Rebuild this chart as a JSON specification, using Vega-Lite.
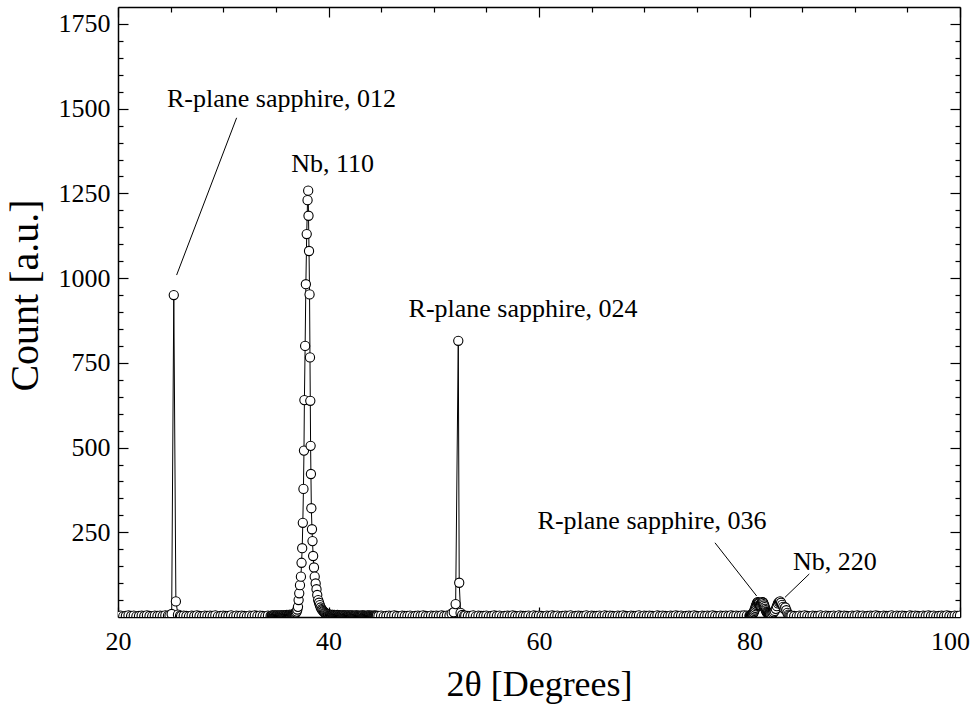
{
  "$schema": "https://vega.github.io/schema/vega-lite/v6.json",
  "width": 842,
  "height": 610,
  "autosize": {"type": "none"},
  "padding": {"left": 118, "top": 7, "right": 14, "bottom": 89},
  "background": "white",
  "config": {
    "view": {"stroke": null},
    "axis": {
      "labelFont": "Liberation Serif", "labelFontSize": 26, "labelColor": "black",
      "titleFont": "Liberation Serif", "titleFontWeight": "normal", "titleColor": "black",
      "domainColor": "black", "domainWidth": 1.5, "tickColor": "black", "tickWidth": 1.2,
      "grid": false, "labelOverlap": false, "labelFlush": false
    }
  },
  "datasets": {
    "scan": [
      {"angle":20.0,"count":3},{"angle":20.25,"count":4},{"angle":20.5,"count":2},{"angle":20.75,"count":3},{"angle":21.0,"count":5},{"angle":21.25,"count":3},{"angle":21.5,"count":4},{"angle":21.75,"count":2},{"angle":22.0,"count":3},{"angle":22.25,"count":4},{"angle":22.5,"count":3},{"angle":22.75,"count":5},{"angle":23.0,"count":3},{"angle":23.25,"count":2},{"angle":23.5,"count":4},{"angle":23.75,"count":3},{"angle":24.0,"count":4},{"angle":24.25,"count":3},{"angle":24.5,"count":5},{"angle":24.75,"count":4},
      {"angle":24.9,"count":5},{"angle":25.1,"count":9},{"angle":25.3,"count":950},{"angle":25.5,"count":46},{"angle":25.7,"count":7},{"angle":25.9,"count":4},
      {"angle":26.0,"count":3},{"angle":26.25,"count":4},{"angle":26.5,"count":3},{"angle":26.75,"count":2},{"angle":27.0,"count":4},{"angle":27.25,"count":3},{"angle":27.5,"count":5},{"angle":27.75,"count":3},{"angle":28.0,"count":2},{"angle":28.25,"count":4},{"angle":28.5,"count":3},{"angle":28.75,"count":4},{"angle":29.0,"count":3},{"angle":29.25,"count":5},{"angle":29.5,"count":2},{"angle":29.75,"count":3},{"angle":30.0,"count":4},{"angle":30.25,"count":3},{"angle":30.5,"count":3},{"angle":30.75,"count":5},{"angle":31.0,"count":2},{"angle":31.25,"count":4},{"angle":31.5,"count":3},{"angle":31.75,"count":4},{"angle":32.0,"count":3},{"angle":32.25,"count":2},{"angle":32.5,"count":4},{"angle":32.75,"count":3},{"angle":33.0,"count":5},{"angle":33.25,"count":3},{"angle":33.5,"count":4},{"angle":33.75,"count":3},{"angle":34.0,"count":2},{"angle":34.25,"count":4},{"angle":34.5,"count":3},
      {"angle":34.6,"count":3},{"angle":34.65,"count":5},{"angle":34.7,"count":4},{"angle":34.75,"count":2},{"angle":34.8,"count":3},{"angle":34.85,"count":5},{"angle":34.9,"count":2},{"angle":34.95,"count":4},{"angle":35.0,"count":4},{"angle":35.05,"count":3},{"angle":35.1,"count":3},{"angle":35.15,"count":5},{"angle":35.2,"count":4},{"angle":35.25,"count":2},{"angle":35.3,"count":3},{"angle":35.35,"count":4},{"angle":35.4,"count":5},{"angle":35.45,"count":3},{"angle":35.5,"count":3},{"angle":35.55,"count":5},{"angle":35.6,"count":4},{"angle":35.65,"count":3},{"angle":35.7,"count":4},{"angle":35.75,"count":5},{"angle":35.8,"count":3},{"angle":35.85,"count":4},{"angle":35.9,"count":5},{"angle":35.95,"count":4},{"angle":36.0,"count":4},{"angle":36.05,"count":6},{"angle":36.1,"count":5},{"angle":36.15,"count":4},{"angle":36.2,"count":4},{"angle":36.25,"count":6},{"angle":36.3,"count":6},{"angle":36.35,"count":5},{"angle":36.4,"count":5},{"angle":36.45,"count":7},{"angle":36.5,"count":6},{"angle":36.55,"count":6},
      {"angle":36.6,"count":6},{"angle":36.65,"count":7},{"angle":36.7,"count":8},{"angle":36.75,"count":9},{"angle":36.8,"count":10},{"angle":36.85,"count":11},{"angle":36.9,"count":13},{"angle":36.98,"count":16},{"angle":37.04,"count":22},{"angle":37.1,"count":30},{"angle":37.16,"count":50},{"angle":37.22,"count":70},{"angle":37.29,"count":94},{"angle":37.38,"count":119},{"angle":37.44,"count":160},{"angle":37.5,"count":203},{"angle":37.56,"count":278},{"angle":37.62,"count":378},{"angle":37.67,"count":491},{"angle":37.71,"count":640},{"angle":37.78,"count":800},{"angle":37.85,"count":982},{"angle":37.93,"count":1130},{"angle":38.01,"count":1230},{"angle":38.07,"count":1258},
      {"angle":38.1,"count":1184},{"angle":38.15,"count":1080},{"angle":38.2,"count":952},{"angle":38.24,"count":766},{"angle":38.27,"count":638},{"angle":38.3,"count":505},{"angle":38.33,"count":422},{"angle":38.37,"count":321},{"angle":38.43,"count":259},{"angle":38.48,"count":224},{"angle":38.54,"count":180},{"angle":38.62,"count":146},{"angle":38.69,"count":119},{"angle":38.78,"count":99},{"angle":38.86,"count":82},{"angle":38.93,"count":65},{"angle":39.02,"count":50},{"angle":39.1,"count":42},{"angle":39.18,"count":35},{"angle":39.26,"count":28},{"angle":39.35,"count":23},{"angle":39.42,"count":20},{"angle":39.5,"count":17},{"angle":39.58,"count":15},{"angle":39.65,"count":13},{"angle":39.72,"count":11},{"angle":39.8,"count":10},{"angle":39.88,"count":9},{"angle":39.95,"count":8},{"angle":40.02,"count":7},{"angle":40.1,"count":6},{"angle":40.15,"count":7},
      {"angle":40.2,"count":6},{"angle":40.25,"count":5},{"angle":40.3,"count":5},{"angle":40.35,"count":6},{"angle":40.4,"count":6},{"angle":40.45,"count":4},{"angle":40.5,"count":5},{"angle":40.55,"count":6},{"angle":40.6,"count":4},{"angle":40.65,"count":5},{"angle":40.7,"count":5},{"angle":40.75,"count":4},{"angle":40.8,"count":4},{"angle":40.85,"count":6},{"angle":40.9,"count":5},{"angle":40.95,"count":3},{"angle":41.0,"count":4},{"angle":41.05,"count":5},{"angle":41.1,"count":4},{"angle":41.15,"count":3},{"angle":41.2,"count":3},{"angle":41.25,"count":4},{"angle":41.3,"count":5},{"angle":41.35,"count":3},{"angle":41.4,"count":4},{"angle":41.45,"count":5},{"angle":41.5,"count":3},{"angle":41.55,"count":4},{"angle":41.6,"count":4},{"angle":41.65,"count":2},{"angle":41.7,"count":4},{"angle":41.75,"count":5},{"angle":41.8,"count":3},{"angle":41.85,"count":3},{"angle":41.9,"count":4},{"angle":41.95,"count":5},{"angle":42.0,"count":3},{"angle":42.05,"count":2},{"angle":42.1,"count":4},{"angle":42.15,"count":4},{"angle":42.2,"count":3},{"angle":42.25,"count":5},{"angle":42.3,"count":3},{"angle":42.35,"count":2},{"angle":42.4,"count":4},{"angle":42.45,"count":3},{"angle":42.5,"count":2},{"angle":42.55,"count":4},{"angle":42.6,"count":3},{"angle":42.65,"count":5},{"angle":42.7,"count":4},{"angle":42.75,"count":2},{"angle":42.8,"count":3},{"angle":42.85,"count":4},{"angle":42.9,"count":3},{"angle":42.95,"count":2},{"angle":43.0,"count":4},{"angle":43.05,"count":3},{"angle":43.1,"count":2},{"angle":43.15,"count":4},{"angle":43.2,"count":3},{"angle":43.25,"count":5},{"angle":43.3,"count":4},{"angle":43.35,"count":2},{"angle":43.4,"count":3},{"angle":43.45,"count":4},{"angle":43.5,"count":3},{"angle":43.55,"count":2},{"angle":43.6,"count":2},{"angle":43.65,"count":4},{"angle":43.7,"count":4},{"angle":43.75,"count":3},{"angle":43.8,"count":3},{"angle":43.85,"count":5},{"angle":43.9,"count":3},{"angle":43.95,"count":2},{"angle":44.0,"count":4},{"angle":44.05,"count":3},{"angle":44.1,"count":2},{"angle":44.15,"count":4},{"angle":44.2,"count":3},{"angle":44.25,"count":2},{"angle":44.3,"count":3},{"angle":44.35,"count":4},{"angle":44.4,"count":4},{"angle":44.45,"count":3},{"angle":44.5,"count":2},{"angle":44.55,"count":4},{"angle":44.6,"count":3},
      {"angle":44.75,"count":3},{"angle":45.0,"count":4},{"angle":45.25,"count":2},{"angle":45.5,"count":3},{"angle":45.75,"count":4},{"angle":46.0,"count":3},{"angle":46.25,"count":5},{"angle":46.5,"count":3},{"angle":46.75,"count":2},{"angle":47.0,"count":4},{"angle":47.25,"count":3},{"angle":47.5,"count":3},{"angle":47.75,"count":4},{"angle":48.0,"count":2},{"angle":48.25,"count":3},{"angle":48.5,"count":4},{"angle":48.75,"count":3},{"angle":49.0,"count":5},{"angle":49.25,"count":3},{"angle":49.5,"count":2},{"angle":49.75,"count":4},{"angle":50.0,"count":3},{"angle":50.25,"count":4},{"angle":50.5,"count":3},{"angle":50.75,"count":5},{"angle":51.0,"count":3},{"angle":51.25,"count":4},{"angle":51.5,"count":5},
      {"angle":51.7,"count":10},{"angle":51.9,"count":14},{"angle":52.08,"count":38},{"angle":52.33,"count":815},{"angle":52.42,"count":101},{"angle":52.55,"count":12},{"angle":52.7,"count":6},{"angle":52.9,"count":4},
      {"angle":53.0,"count":4},{"angle":53.25,"count":3},{"angle":53.5,"count":3},{"angle":53.75,"count":5},{"angle":54.0,"count":2},{"angle":54.25,"count":4},{"angle":54.5,"count":3},{"angle":54.75,"count":3},{"angle":55.0,"count":4},{"angle":55.25,"count":2},{"angle":55.5,"count":3},{"angle":55.75,"count":5},{"angle":56.0,"count":3},{"angle":56.25,"count":4},{"angle":56.5,"count":2},{"angle":56.75,"count":3},{"angle":57.0,"count":4},{"angle":57.25,"count":3},{"angle":57.5,"count":5},{"angle":57.75,"count":3},{"angle":58.0,"count":2},{"angle":58.25,"count":4},{"angle":58.5,"count":3},{"angle":58.75,"count":3},{"angle":59.0,"count":4},{"angle":59.25,"count":2},{"angle":59.5,"count":5},{"angle":59.75,"count":3},{"angle":60.0,"count":4},{"angle":60.25,"count":3},{"angle":60.5,"count":2},{"angle":60.75,"count":4},{"angle":61.0,"count":3},{"angle":61.25,"count":5},{"angle":61.5,"count":3},{"angle":61.75,"count":4},{"angle":62.0,"count":2},{"angle":62.25,"count":3},{"angle":62.5,"count":4},{"angle":62.75,"count":3},{"angle":63.0,"count":5},{"angle":63.25,"count":2},{"angle":63.5,"count":3},{"angle":63.75,"count":4},{"angle":64.0,"count":3},{"angle":64.25,"count":3},{"angle":64.5,"count":5},{"angle":64.75,"count":2},{"angle":65.0,"count":4},{"angle":65.25,"count":3},{"angle":65.5,"count":3},{"angle":65.75,"count":4},{"angle":66.0,"count":2},{"angle":66.25,"count":5},{"angle":66.5,"count":3},{"angle":66.75,"count":4},{"angle":67.0,"count":3},{"angle":67.25,"count":2},{"angle":67.5,"count":4},{"angle":67.75,"count":3},{"angle":68.0,"count":5},{"angle":68.25,"count":3},{"angle":68.5,"count":2},{"angle":68.75,"count":4},{"angle":69.0,"count":3},{"angle":69.25,"count":3},{"angle":69.5,"count":5},{"angle":69.75,"count":2},{"angle":70.0,"count":4},{"angle":70.25,"count":3},{"angle":70.5,"count":4},{"angle":70.75,"count":3},{"angle":71.0,"count":2},{"angle":71.25,"count":5},{"angle":71.5,"count":3},{"angle":71.75,"count":4},{"angle":72.0,"count":3},{"angle":72.25,"count":2},{"angle":72.5,"count":4},{"angle":72.75,"count":3},{"angle":73.0,"count":5},{"angle":73.25,"count":3},{"angle":73.5,"count":4},{"angle":73.75,"count":2},{"angle":74.0,"count":3},{"angle":74.25,"count":4},{"angle":74.5,"count":3},{"angle":74.75,"count":5},{"angle":75.0,"count":3},{"angle":75.25,"count":2},{"angle":75.5,"count":4},{"angle":75.75,"count":3},{"angle":76.0,"count":4},{"angle":76.25,"count":3},{"angle":76.5,"count":5},{"angle":76.75,"count":3},{"angle":77.0,"count":2},{"angle":77.25,"count":4},{"angle":77.5,"count":3},{"angle":77.75,"count":4},{"angle":78.0,"count":3},{"angle":78.25,"count":5},{"angle":78.5,"count":3},{"angle":78.75,"count":4},{"angle":79.0,"count":3},{"angle":79.25,"count":4},{"angle":79.5,"count":5},{"angle":79.75,"count":4},
      {"angle":80.0,"count":4},{"angle":80.05,"count":5},{"angle":80.1,"count":5},{"angle":80.15,"count":6},{"angle":80.2,"count":6},{"angle":80.25,"count":7},{"angle":80.3,"count":9},{"angle":80.35,"count":11},{"angle":80.4,"count":14},{"angle":80.45,"count":18},{"angle":80.5,"count":22},{"angle":80.55,"count":27},{"angle":80.6,"count":32},{"angle":80.65,"count":36},{"angle":80.7,"count":40},{"angle":80.75,"count":43},{"angle":80.8,"count":44},{"angle":80.85,"count":42},{"angle":80.9,"count":40},{"angle":80.95,"count":36},{"angle":81.0,"count":34},{"angle":81.05,"count":35},{"angle":81.1,"count":38},{"angle":81.15,"count":42},{"angle":81.2,"count":44},{"angle":81.25,"count":44},{"angle":81.3,"count":42},{"angle":81.35,"count":38},{"angle":81.4,"count":34},{"angle":81.45,"count":29},{"angle":81.5,"count":24},{"angle":81.55,"count":20},{"angle":81.6,"count":16},{"angle":81.65,"count":14},{"angle":81.7,"count":12},{"angle":81.75,"count":11},{"angle":81.8,"count":10},{"angle":81.85,"count":9},{"angle":81.9,"count":9},{"angle":81.95,"count":8},{"angle":82.0,"count":8},
      {"angle":82.1,"count":9},{"angle":82.2,"count":11},{"angle":82.3,"count":14},{"angle":82.4,"count":18},{"angle":82.5,"count":24},{"angle":82.6,"count":32},{"angle":82.7,"count":40},{"angle":82.8,"count":44},{"angle":82.9,"count":46},{"angle":83.0,"count":42},{"angle":83.1,"count":36},{"angle":83.2,"count":30},{"angle":83.3,"count":24},{"angle":83.4,"count":28},{"angle":83.5,"count":20},{"angle":83.6,"count":12},{"angle":83.7,"count":7},{"angle":83.8,"count":5},{"angle":83.9,"count":4},
      {"angle":84.0,"count":4},{"angle":84.25,"count":3},{"angle":84.5,"count":2},{"angle":84.75,"count":4},{"angle":85.0,"count":3},{"angle":85.25,"count":5},{"angle":85.5,"count":3},{"angle":85.75,"count":2},{"angle":86.0,"count":4},{"angle":86.25,"count":3},{"angle":86.5,"count":3},{"angle":86.75,"count":5},{"angle":87.0,"count":2},{"angle":87.25,"count":4},{"angle":87.5,"count":3},{"angle":87.75,"count":3},{"angle":88.0,"count":4},{"angle":88.25,"count":2},{"angle":88.5,"count":5},{"angle":88.75,"count":3},{"angle":89.0,"count":4},{"angle":89.25,"count":3},{"angle":89.5,"count":2},{"angle":89.75,"count":4},{"angle":90.0,"count":3},{"angle":90.25,"count":5},{"angle":90.5,"count":3},{"angle":90.75,"count":4},{"angle":91.0,"count":2},{"angle":91.25,"count":3},{"angle":91.5,"count":4},{"angle":91.75,"count":3},{"angle":92.0,"count":5},{"angle":92.25,"count":3},{"angle":92.5,"count":2},{"angle":92.75,"count":4},{"angle":93.0,"count":3},{"angle":93.25,"count":3},{"angle":93.5,"count":5},{"angle":93.75,"count":2},{"angle":94.0,"count":4},{"angle":94.25,"count":3},{"angle":94.5,"count":4},{"angle":94.75,"count":3},{"angle":95.0,"count":2},{"angle":95.25,"count":5},{"angle":95.5,"count":3},{"angle":95.75,"count":4},{"angle":96.0,"count":3},{"angle":96.25,"count":2},{"angle":96.5,"count":4},{"angle":96.75,"count":3},{"angle":97.0,"count":5},{"angle":97.25,"count":3},{"angle":97.5,"count":4},{"angle":97.75,"count":2},{"angle":98.0,"count":3},{"angle":98.25,"count":4},{"angle":98.5,"count":3},{"angle":98.75,"count":5},{"angle":99.0,"count":3},{"angle":99.25,"count":2},{"angle":99.5,"count":4},{"angle":99.75,"count":3},{"angle":100.0,"count":4}
    ],
    "labels": [
      {"angle":35.53,"count":1506,"label":"R-plane sapphire, 012"},
      {"angle":40.39,"count":1314,"label":"Nb, 110"},
      {"angle":58.48,"count":886,"label":"R-plane sapphire, 024"},
      {"angle":70.74,"count":260,"label":"R-plane sapphire, 036"},
      {"angle":88.12,"count":139,"label":"Nb, 220"}
    ],
    "leaders": [
      {"angle":31.27,"count":1473,"angle_end":25.57,"count_end":1009},
      {"angle":76.72,"count":219,"angle_end":80.68,"count_end":62},
      {"angle":85.68,"count":127,"angle_end":83.37,"count_end":58}
    ]
  },
  "resolve": {"axis": {"x": "independent", "y": "independent"}},
  "layer": [
    {
      "data": {"name": "scan"},
      "mark": {"type": "line", "color": "black", "strokeWidth": 1, "clip": true},
      "encoding": {
        "x": {"field": "angle", "type": "quantitative", "scale": {"domain": [20, 100], "nice": false, "zero": false},
          "axis": {"orient": "bottom", "values": [20, 40, 60, 80, 100], "format": "d", "tickSize": -10, "labelPadding": 21,
            "labelOffset": {"condition": {"test": "datum.value === 100", "value": -10}, "value": 0},
            "title": "2θ [Degrees]", "titleFontSize": 36, "titleBaseline": "alphabetic", "titleY": 78}},
        "y": {"field": "count", "type": "quantitative", "scale": {"domain": [0, 1800], "nice": false},
          "axis": {"orient": "left", "values": [250, 500, 750, 1000, 1250, 1500, 1750], "format": "d", "tickSize": -10, "labelPadding": 18,
            "title": "Count [a.u.]", "titleFontSize": 40, "titleBaseline": "alphabetic", "titleX": -81, "titleY": 288}}
      }
    },
    {
      "data": {"name": "scan"},
      "mark": {"type": "point", "shape": "circle", "filled": true, "fill": "white", "stroke": "black", "strokeWidth": 1.1, "size": 85, "opacity": 1, "clip": true},
      "encoding": {
        "x": {"field": "angle", "type": "quantitative", "scale": {"domain": [20, 100], "nice": false, "zero": false},
          "axis": {"orient": "bottom", "values": [25, 30, 35, 45, 50, 55, 65, 70, 75, 85, 90, 95], "tickSize": -5, "labels": false, "title": null, "domain": false}},
        "y": {"field": "count", "type": "quantitative", "scale": {"domain": [0, 1800], "nice": false},
          "axis": {"orient": "left", "values": [50, 100, 150, 200, 300, 350, 400, 450, 550, 600, 650, 700, 800, 850, 900, 950, 1050, 1100, 1150, 1200, 1300, 1350, 1400, 1450, 1550, 1600, 1650, 1700], "tickSize": -5, "labels": false, "title": null, "domain": false}}
      }
    },
    {
      "data": {"name": "labels"},
      "mark": {"type": "text", "font": "Liberation Serif", "fontSize": 26, "align": "center", "baseline": "alphabetic", "color": "black"},
      "encoding": {
        "x": {"field": "angle", "type": "quantitative", "scale": {"domain": [20, 100], "nice": false, "zero": false},
          "axis": {"orient": "top", "values": [20, 40, 60, 80, 100], "tickSize": -10, "labels": false, "title": null}},
        "y": {"field": "count", "type": "quantitative", "scale": {"domain": [0, 1800], "nice": false},
          "axis": {"orient": "right", "values": [250, 500, 750, 1000, 1250, 1500, 1750], "tickSize": -10, "labels": false, "title": null}},
        "text": {"field": "label"}
      }
    },
    {
      "data": {"name": "leaders"},
      "mark": {"type": "rule", "color": "black", "strokeWidth": 1},
      "encoding": {
        "x": {"field": "angle", "type": "quantitative", "scale": {"domain": [20, 100], "nice": false, "zero": false},
          "axis": {"orient": "top", "values": [25, 30, 35, 45, 50, 55, 65, 70, 75, 85, 90, 95], "tickSize": -5, "labels": false, "title": null, "domain": false}},
        "y": {"field": "count", "type": "quantitative", "scale": {"domain": [0, 1800], "nice": false},
          "axis": {"orient": "right", "values": [50, 100, 150, 200, 300, 350, 400, 450, 550, 600, 650, 700, 800, 850, 900, 950, 1050, 1100, 1150, 1200, 1300, 1350, 1400, 1450, 1550, 1600, 1650, 1700], "tickSize": -5, "labels": false, "title": null, "domain": false}},
        "x2": {"field": "angle_end"},
        "y2": {"field": "count_end"}
      }
    }
  ]
}
